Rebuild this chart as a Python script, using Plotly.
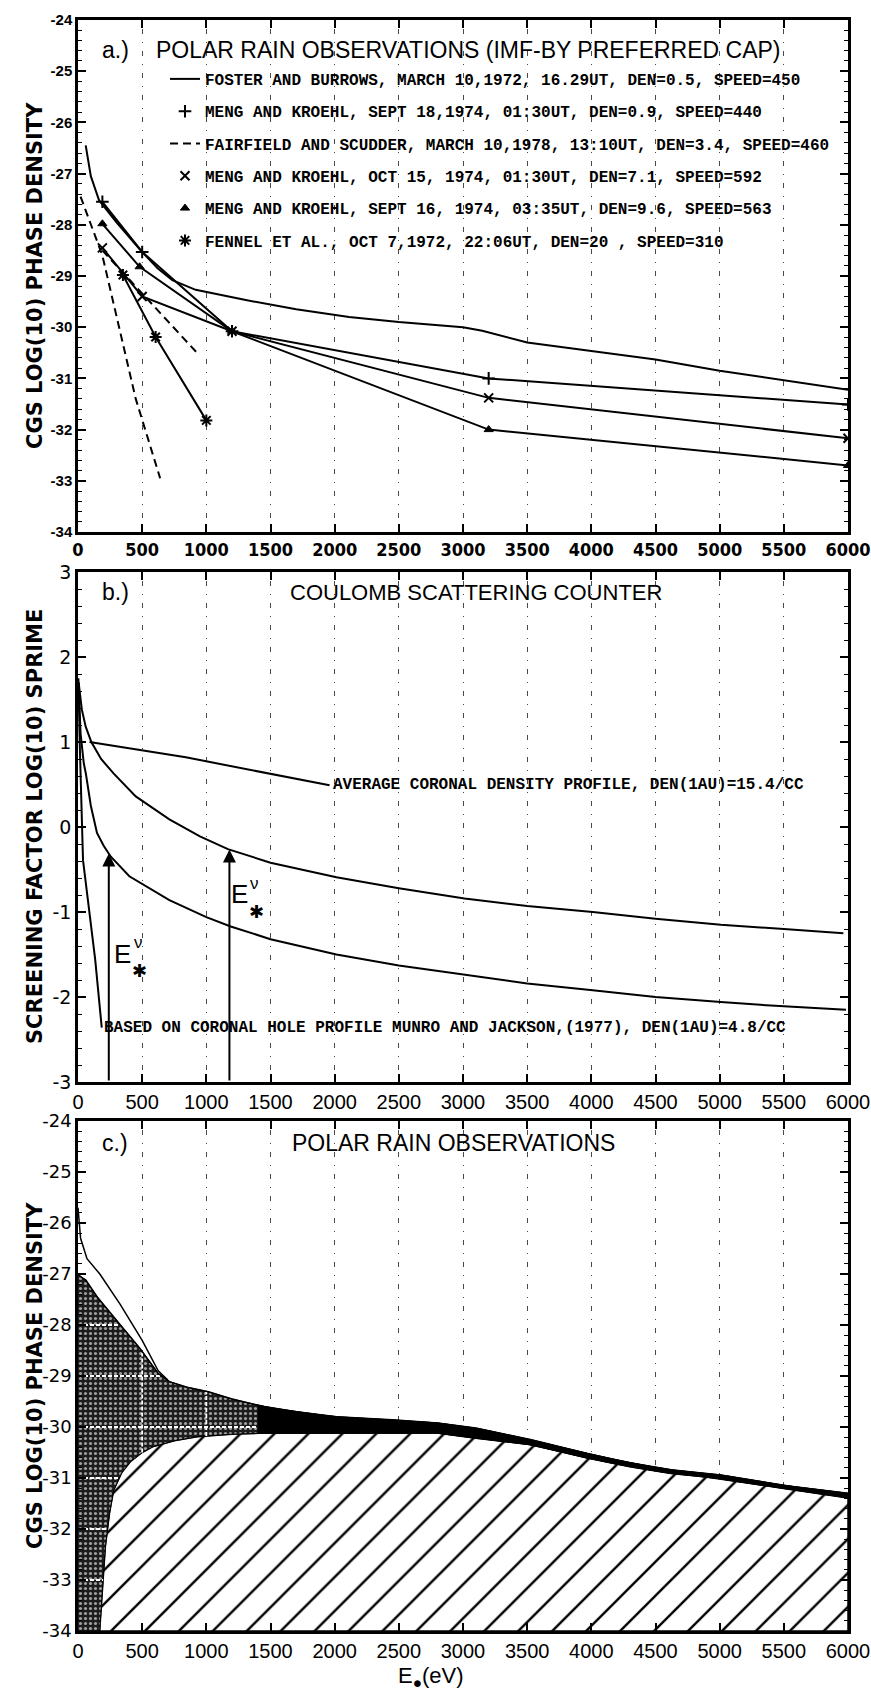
import numpy as np
import plotly.graph_objects as go

W, H = 871, 1698

# ---------------- tick values ----------------
x_ticks = list(range(0, 6001, 500))
ya_ticks = list(range(-24, -35, -1))
yb_ticks = [3, 2, 1, 0, -1, -2, -3]
yc_ticks = list(range(-24, -35, -1))

# ---------------- panel a : polar rain observations ----------------
foster_E = [60, 100, 164, 300, 488, 620, 735, 917, 1307, 1700, 2112, 2500, 3000, 3150, 3500, 4000, 4500, 5000, 5500, 6000]
foster_v = [-26.45, -27.05, -27.52, -27.95, -28.5, -28.85, -29.08, -29.27, -29.47, -29.65, -29.8, -29.9, -30.0, -30.07, -30.3, -30.47, -30.63, -30.85, -31.03, -31.22]
meng18_E = [190, 500, 1200, 3200, 6000]
meng18_v = [-27.55, -28.53, -30.08, -31.0, -31.51]
fair1_E = [190, 920]
fair1_v = [-28.5, -30.48]
fair2_E = [20, 190, 450, 640]
fair2_v = [-27.45, -28.6, -31.4, -32.95]
meng15_E = [190, 500, 1200, 3200, 6000]
meng15_v = [-28.45, -29.4, -30.08, -31.38, -32.17]
meng16_E = [190, 480, 1200, 3200, 6000]
meng16_v = [-27.98, -28.82, -30.08, -32.0, -32.7]
fennel_E = [350, 605, 1000]
fennel_v = [-28.98, -30.19, -31.82]

legend_labels = [
    "FOSTER AND BURROWS, MARCH 10,1972, 16.29UT, DEN=0.5, SPEED=450",
    "MENG AND KROEHL, SEPT 18,1974, 01:30UT, DEN=0.9, SPEED=440",
    "FAIRFIELD AND SCUDDER, MARCH 10,1978, 13:10UT, DEN=3.4, SPEED=460",
    "MENG AND KROEHL, OCT 15, 1974, 01:30UT, DEN=7.1, SPEED=592",
    "MENG AND KROEHL, SEPT 16, 1974, 03:35UT, DEN=9.6, SPEED=563",
    "FENNEL ET AL., OCT 7,1972, 22:06UT, DEN=20 , SPEED=310",
]

# ---------------- panel b : coulomb scattering counter ----------------
avg_E = [90, 840, 1960]
avg_v = [1.0, 0.82, 0.49]
up_E = [5, 30, 60, 104, 180, 277, 450, 712, 950, 1168, 1500, 2014, 2500, 3012, 3500, 4011, 4500, 5009, 5500, 5964]
up_v = [1.7, 1.38, 1.18, 1.0, 0.8, 0.63, 0.36, 0.09, -0.11, -0.26, -0.42, -0.59, -0.72, -0.84, -0.93, -1.0, -1.08, -1.15, -1.2, -1.25]
lo_E = [5, 20, 45, 61, 100, 148, 200, 256, 400, 712, 1000, 1190, 1500, 2014, 2500, 3012, 3500, 4011, 4500, 5009, 5500, 5984]
lo_v = [1.7, 1.1, 0.75, 0.63, 0.25, -0.07, -0.22, -0.35, -0.58, -0.86, -1.06, -1.17, -1.32, -1.5, -1.63, -1.74, -1.84, -1.92, -2.0, -2.06, -2.11, -2.15]
hole_E = [3, 15, 39, 90, 134, 185]
hole_v = [1.75, 0.9, -0.39, -1.0, -1.56, -2.36]
arrow_lo_E = 240
arrow_up_E = 1180
avg_label = "AVERAGE CORONAL DENSITY PROFILE, DEN(1AU)=15.4/CC"
hole_label = "BASED ON CORONAL HOLE PROFILE MUNRO AND JACKSON,(1977), DEN(1AU)=4.8/CC"

# ---------------- panel c : polar rain observations (envelopes) ----------------
env_E = [0, 20, 70, 170, 330, 500, 625, 700]
env_v = [-25.7, -26.3, -26.7, -27.0, -27.6, -28.3, -28.9, -29.08]
ctop_E = [0, 20, 61, 150, 321, 480, 625, 712, 850, 1016, 1200, 1450, 1700, 2014, 2448, 2800, 3099, 3533, 3967, 4300, 4619, 5010, 5486, 6000]
ctop_v = [-27.0, -27.05, -27.12, -27.45, -27.97, -28.45, -28.95, -29.11, -29.22, -29.31, -29.45, -29.6, -29.7, -29.8, -29.86, -29.92, -30.02, -30.25, -30.52, -30.7, -30.84, -30.94, -31.14, -31.3]
chat_E = [169, 190, 213, 245, 278, 340, 408, 500, 581, 750, 929, 1200, 1450, 2000, 2500, 2796, 3099, 3533, 3967, 4300, 4619, 4970, 5486, 6000]
chat_v = [-34.0, -33.2, -32.35, -31.7, -31.24, -30.9, -30.68, -30.5, -30.39, -30.27, -30.19, -30.14, -30.12, -30.12, -30.12, -30.12, -30.22, -30.35, -30.61, -30.78, -30.91, -31.0, -31.2, -31.39]
c_grid_y = [-28, -29, -30, -31, -32, -33]
c_grid_x = [500, 1000]
black_from = 1400

# ---------------- helpers ----------------
def px(x):
    return x / W

def py(y):
    return 1 - y / H

XDOM = [px(78), px(848)]
DOM_A = [py(532), py(20)]
DOM_B = [py(1082), py(572)]
DOM_C = [py(1631), py(1121)]

MONO = "Liberation Mono, DejaVu Sans Mono, monospace"
SANS = "Liberation Sans, Arial, sans-serif"
NARROW = "Liberation Sans Narrow, DejaVu Sans Condensed, Arial Narrow, sans-serif"
DJV = "DejaVu Sans, sans-serif"

fig = go.Figure()

def line(xs, ys, ax, dash="solid", width=2, color="black", name=None, showlegend=False, group=None):
    fig.add_trace(go.Scatter(x=xs, y=ys, mode="lines", xaxis=ax[0], yaxis=ax[1],
                             line=dict(color=color, width=width, dash=dash),
                             name=name, showlegend=showlegend, legendgroup=group,
                             hoverinfo="skip"))

def marks(xs, ys, ax, symbol, size, name, group, lw=2):
    fig.add_trace(go.Scatter(x=xs, y=ys, mode="markers", xaxis=ax[0], yaxis=ax[1],
                             marker=dict(symbol=symbol, size=size, color="black",
                                         line=dict(color="black", width=lw)),
                             name=name, showlegend=True, legendgroup=group,
                             hoverinfo="skip"))

A = ("x", "y")
B = ("x2", "y2")
C = ("x3", "y3")

# panel a
line(foster_E, foster_v, A, name=legend_labels[0], showlegend=True, group="g1")
line(meng18_E, meng18_v, A, group="g2")
marks(meng18_E, meng18_v, A, "cross-thin", 9, legend_labels[1], "g2")
line(fair1_E, fair1_v, A, dash="8px,5px", name=legend_labels[2], showlegend=True, group="g3")
line(fair2_E, fair2_v, A, dash="8px,5px", group="g3")
line(meng15_E, meng15_v, A, group="g4")
marks(meng15_E, meng15_v, A, "x-thin", 9, legend_labels[3], "g4")
line(meng16_E, meng16_v, A, group="g5")
marks(meng16_E, meng16_v, A, "triangle-up", 8, legend_labels[4], "g5", lw=1)
line(fennel_E, fennel_v, A, group="g6")
marks(fennel_E, fennel_v, A, "asterisk-open", 10, legend_labels[5], "g6")

# panel b
line(avg_E, avg_v, B)
line(up_E, up_v, B)
line(lo_E, lo_v, B)
line(hole_E, hole_v, B)

# panel c
ymin_c = yc_ticks[-1]
hx = list(chat_E) + [chat_E[-1], chat_E[0]]
hy = list(chat_v) + [ymin_c, ymin_c]
fig.add_trace(go.Scatter(x=hx, y=hy, mode="lines", fill="toself", fillcolor="white", xaxis="x3", yaxis="y3",
                         line=dict(color="black", width=1.5),
                         fillpattern=dict(shape="/", fgcolor="black", bgcolor="white", fgopacity=1,
                                          size=24, solidity=0.1),
                         showlegend=False, hoverinfo="skip"))
dx = list(ctop_E) + [chat_E[-1]] + list(chat_E[::-1]) + [ctop_E[0]]
dy = list(ctop_v) + [chat_v[-1]] + list(chat_v[::-1]) + [ymin_c]
fig.add_trace(go.Scatter(x=dx, y=dy, mode="lines", fill="toself", fillcolor="#1c1c1c", xaxis="x3", yaxis="y3",
                         line=dict(color="black", width=1),
                         fillpattern=dict(shape=".", fgcolor="#a0a0a0", bgcolor="#1c1c1c", fgopacity=1,
                                          size=5, solidity=0.3),
                         showlegend=False, hoverinfo="skip"))
eg = np.linspace(black_from, ctop_E[-1], 80)
t_i = np.interp(eg, ctop_E, ctop_v)
h_i = np.interp(eg, chat_E, chat_v)
fig.add_trace(go.Scatter(x=list(eg) + list(eg[::-1]), y=list(t_i) + list(h_i[::-1]), mode="lines",
                         fill="toself", fillcolor="black", line=dict(color="black", width=1),
                         xaxis="x3", yaxis="y3", showlegend=False, hoverinfo="skip"))
# white grid lines inside the dark region
tv = np.array(ctop_v); te = np.array(ctop_E)
hv = np.array(chat_v); he = np.array(chat_E)
k = int(np.argmax(hv)) + 1
for yv in c_grid_y:
    e_top = np.interp(yv, tv[::-1], te[::-1]) if yv < tv[0] else 0.0
    e_hat = np.interp(yv, hv[:k], he[:k]) if yv < hv.max() else np.inf
    e_end = min(e_top, e_hat, black_from)
    line([0, e_end], [yv, yv], C, dash="4px,2px", width=1.8, color="white")
for xv in c_grid_x:
    line([xv, xv], [np.interp(xv, he, hv), np.interp(xv, te, tv)], C, dash="4px,2px", width=1.8, color="white")
line(ctop_E, ctop_v, C, width=1.5)
line(env_E, env_v, C, width=1.5)

# ---------------- axes ----------------
def xaxis(anchor, font):
    return dict(domain=XDOM, range=[0, 6000], anchor=anchor, tickmode="array",
                tickvals=x_ticks, ticktext=[str(t) for t in x_ticks],
                ticks="inside", ticklen=8, tickwidth=2, tickcolor="black", mirror="ticks",
                showline=True, linewidth=2.5, linecolor="black", showgrid=True,
                gridcolor="#4a4a4a", gridwidth=1, griddash="1px,8px,5px,8px",
                zeroline=False, tickfont=font, layer="above traces", automargin=False)

def yaxis(anchor, dom, ticks, font, minor):
    return dict(domain=dom, range=[ticks[-1], ticks[0]], anchor=anchor, tickmode="array",
                tickvals=ticks, ticktext=[str(t) for t in ticks],
                ticks="inside", ticklen=8, tickwidth=2, tickcolor="black", mirror="ticks",
                showline=True, linewidth=2.5, linecolor="black", showgrid=False,
                zeroline=False, tickfont=font, layer="above traces", automargin=False,
                minor=dict(dtick=minor, ticks="inside", ticklen=4, tickwidth=1, tickcolor="black"))

fig.update_layout(
    width=W, height=H, margin=dict(l=0, r=0, t=0, b=0, autoexpand=False),
    paper_bgcolor="white", plot_bgcolor="white",
    xaxis=xaxis("y", dict(family=NARROW, size=18, color="black", weight="bold")),
    yaxis=yaxis("x", DOM_A, ya_ticks, dict(family=SANS, size=15, color="black", weight="bold"), 0.2),
    xaxis2=xaxis("y2", dict(family=SANS, size=20, color="black")),
    yaxis2=yaxis("x2", DOM_B, yb_ticks, dict(family=DJV, size=19, color="black"), 0.2),
    xaxis3=xaxis("y3", dict(family=SANS, size=20, color="black")),
    yaxis3=yaxis("x3", DOM_C, yc_ticks, dict(family=DJV, size=18, color="black"), 0.2),
    legend=dict(x=px(165), y=py(62), xanchor="left", yanchor="top", bgcolor="rgba(0,0,0,0)",
                font=dict(family=MONO, size=16, color="black", weight="bold"),
                tracegroupgap=8.5, itemwidth=30, traceorder="grouped"),
    showlegend=True,
)

ann = []
def text(x, y, s, size, family=SANS, xanchor="left", angle=0, weight="normal", yanchor="middle"):
    ann.append(dict(x=px(x), y=py(y), xref="paper", yref="paper", text=s, showarrow=False,
                    xanchor=xanchor, yanchor=yanchor, textangle=angle,
                    font=dict(family=family, size=size, color="black", weight=weight)))

text(100, 50, "a.)", 23)
text(154, 50, "POLAR RAIN OBSERVATIONS (IMF-BY PREFERRED CAP)", 23)
text(100, 592, "b.)", 23)
text(288, 592, "COULOMB SCATTERING COUNTER", 22)
text(100, 1143, "c.)", 23)
text(290, 1143, "POLAR RAIN OBSERVATIONS", 23)
text(35, 276, "CGS LOG(10) PHASE DENSITY", 21, DJV, "center", -90, "bold")
text(35, 827, "SCREENING FACTOR LOG(10) SPRIME", 21, DJV, "center", -90, "bold")
text(35, 1376, "CGS LOG(10) PHASE DENSITY", 21, DJV, "center", -90, "bold")
text(431, 1677, "E<sub>●</sub>(eV)", 22, SANS, "center")
# E*^nu labels
text(122, 954, "E", 26, SANS, "center")
text(138, 943, "ν", 17, SANS, "center")
text(139, 971, "✱", 18, DJV, "center")
text(239, 894, "E", 26, SANS, "center")
text(255, 883, "ν", 17, SANS, "center")
text(256, 911, "✱", 18, DJV, "center")

# curve labels in panel b (data coords)
ann.append(dict(x=avg_E[-1] + 15, y=avg_v[-1], xref="x2", yref="y2", text=avg_label, showarrow=False,
                xanchor="left", yanchor="middle", font=dict(family=MONO, size=16, color="black", weight="bold")))
ann.append(dict(x=hole_E[-1], y=hole_v[-1], xref="x2", yref="y2", text=hole_label, showarrow=False,
                xanchor="left", yanchor="middle", font=dict(family=MONO, size=16, color="black", weight="bold")))
# arrows E*
for ea, ce, cv in [(arrow_lo_E, lo_E, lo_v), (arrow_up_E, up_E, up_v)]:
    top = float(np.interp(ea, ce, cv))
    ann.append(dict(x=ea, y=top, ax=ea, ay=yb_ticks[-1], xref="x2", yref="y2", axref="x2", ayref="y2",
                    text="", showarrow=True, arrowhead=2, arrowsize=1.3, arrowwidth=2, arrowcolor="black"))

fig.update_layout(annotations=ann)
fig.write_html("out.html")
